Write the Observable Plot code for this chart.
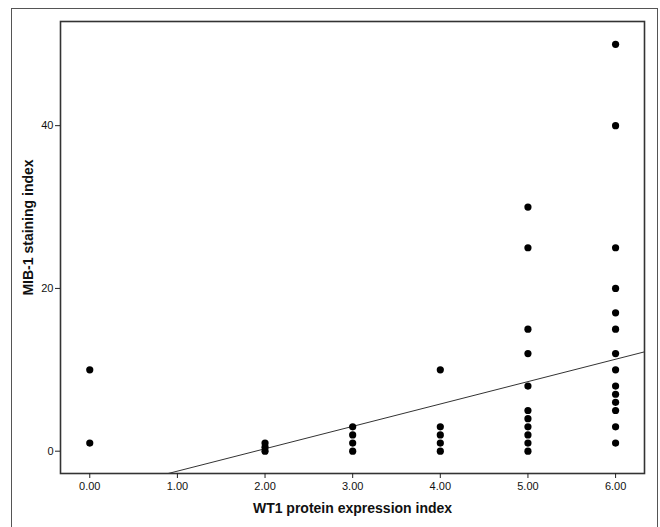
<!DOCTYPE html>
<html>
<head>
<meta charset="utf-8">
<script src="https://cdn.jsdelivr.net/npm/d3@7"></script>
<script src="https://cdn.jsdelivr.net/npm/@observablehq/plot@0.6"></script>
<style>
  html, body { margin: 0; padding: 0; background: #fff; }
  #wrap { position: relative; width: 660px; height: 527px; overflow: hidden; }
  #border { position: absolute; left: 11px; top: 8px; width: 645px; height: 560px;
            border: 1.5px solid #555; pointer-events: none; }
  svg { font-family: "Liberation Sans", Arial, sans-serif; }
</style>
</head>
<body>
<div id="wrap"><div id="border"></div><div id="chart"></div></div>
<script>
// WT1 protein expression index (x) and MIB-1 staining index (y)
const wt1 = [0, 0, 2, 2, 2, 3, 3, 3, 3, 4, 4, 4, 4, 4,
             5, 5, 5, 5, 5, 5, 5, 5, 5, 5, 5,
             6, 6, 6, 6, 6, 6, 6, 6, 6, 6, 6, 6, 6, 6];
const mib1 = [10, 1, 1, 0.5, 0, 3, 2, 1, 0, 10, 3, 2, 1, 0,
              30, 25, 15, 12, 8, 5, 4, 3, 2, 1, 0,
              50, 40, 25, 20, 17, 15, 12, 10, 8, 7, 6, 5, 3, 1];
const xTicks = [0, 1, 2, 3, 4, 5, 6];
const yTicks = [0, 20, 40];
// fitted regression line
const fitIntercept = -5.2;
const fitSlope = 2.75;

const xDomain = [-0.334, 6.33];
const yDomain = [-2.74, 52.8];
const fitX = xDomain;
const fitY = fitX.map(x => fitIntercept + fitSlope * x);
const points = wt1.map((x, i) => ({x, y: mib1[i]}));
const fit = fitX.map((x, i) => ({x, y: fitY[i]}));

const chart = Plot.plot({
  width: 660,
  height: 527,
  marginLeft: 60,
  marginTop: 21,
  marginRight: 16,
  marginBottom: 54,
  style: {fontFamily: "Liberation Sans, Arial, sans-serif", fontSize: "11px", color: "#111", background: "transparent"},
  x: {domain: xDomain},
  y: {domain: yDomain},
  marks: [
    Plot.line(fit, {x: "x", y: "y", stroke: "#333", strokeWidth: 1, clip: true}),
    Plot.dot(points, {x: "x", y: "y", r: 3.6, fill: "#000", stroke: "none"}),
    Plot.frame({stroke: "#333", strokeWidth: 1.6}),
    Plot.axisX({ticks: xTicks, tickFormat: d3.format(".2f"), tickSize: 5, tickPadding: 4, label: null, stroke: "#222", fill: "#111"}),
    Plot.axisY({ticks: yTicks, tickFormat: d => d, tickSize: 5, tickPadding: 2, label: null, stroke: "#222", fill: "#111"}),
    Plot.text(["WT1 protein expression index"], {frameAnchor: "bottom", dy: 39, text: d => d,
      fontWeight: "bold", fontSize: 14, fill: "#111", textAnchor: "middle"}),
    Plot.text(["MIB-1 staining index"], {frameAnchor: "left", dx: -32, dy: -20, rotate: -90, text: d => d,
      fontWeight: "bold", fontSize: 14, fill: "#111", textAnchor: "middle"})
  ]
});
document.getElementById("chart").appendChild(chart);
</script>
</body>
</html>
